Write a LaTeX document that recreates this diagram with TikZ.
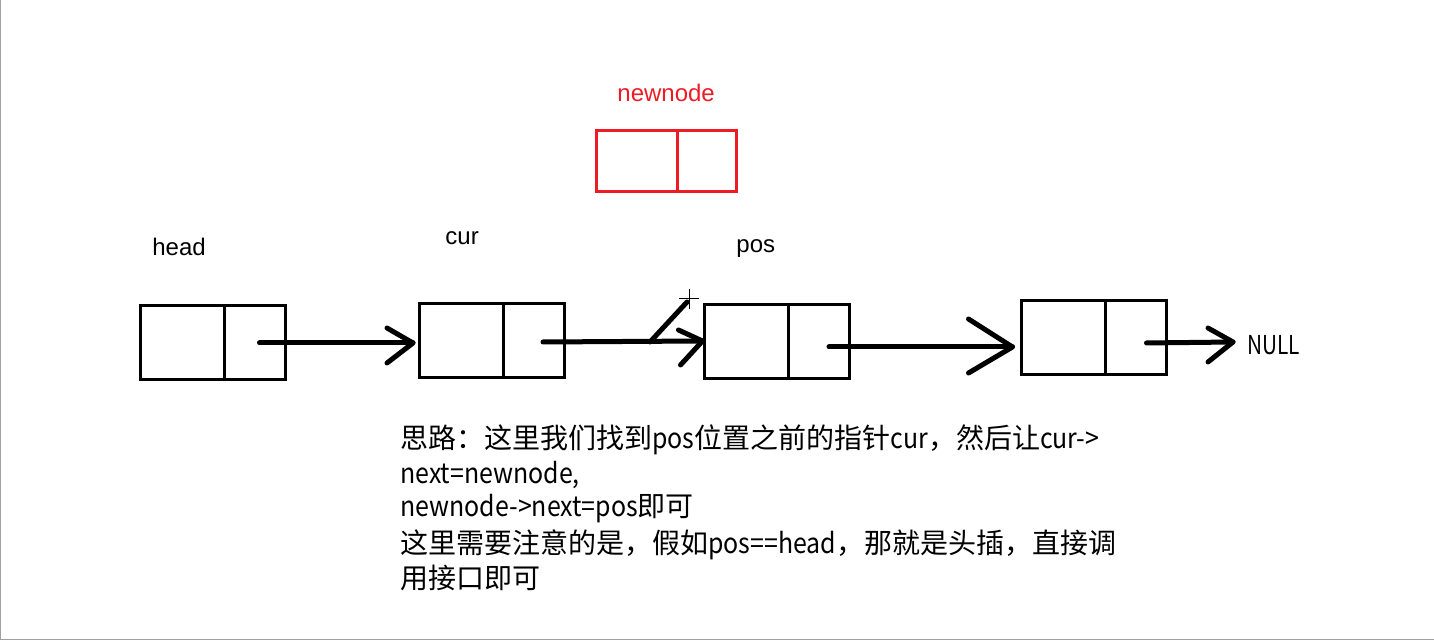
\documentclass[tikz,border=0pt]{standalone}
\usepackage{graphicx}
\usepackage{fontspec}
\setmainfont{Liberation Sans}
\newfontfamily\cjk{Noto Sans CJK SC}
\newfontfamily\cjklat{Noto Sans CJK SC}[FakeStretch=0.89]
\newcommand\lt[1]{{\cjklat #1}}
\usetikzlibrary{calc}
\definecolor{mspred}{HTML}{ED1C24}
\definecolor{edgegray}{HTML}{A0A0A0}
\begin{document}
\begin{tikzpicture}[x=0.5pt,y=-0.5pt,
  cell/.style={draw, line width=1.5pt, inner sep=0pt, outer sep=0pt,
               minimum width=72.5pt, minimum height=37pt},
  conn/.style={line width=2.5pt, line cap=round, line join=round},
  lbl/.style={inner sep=0pt, anchor=base west, font=\fontsize{12pt}{14pt}\selectfont},
  note/.style={inner sep=0pt, anchor=west, font=\cjk\fontsize{14pt}{17pt}\selectfont}]
\useasboundingbox (0,0) rectangle (1434,640);
\fill[white] (0,0) rectangle (1434,640);
% window edges
\draw[edgegray, line width=0.6pt] (0.6,0) -- (0.6,640);
\draw[edgegray, line width=0.5pt] (0,639) -- (1434,639);

% list cells
\node[cell] (b1) at (213,342.5) {};
\node[cell] (b2) at (491.5,340.5) {};
\node[cell] (b3) at (777,341.5) {};
\node[cell] (b4) at (1093.5,338) {};
\node[cell, draw=mspred, minimum width=70pt, minimum height=30.5pt] (nn) at (666.5,161) {};
\foreach \b in {b1,b2,b3,b4}
  \draw[line width=1.5pt] ($(\b.north west)!0.58!(\b.north east)$) -- ($(\b.south west)!0.58!(\b.south east)$);
\draw[line width=1.5pt, mspred] ($(nn.north west)!0.58!(nn.north east)$) -- ($(nn.south west)!0.58!(nn.south east)$);

% labels
\node[lbl, text=mspred] (lnn) at (617,102) {newnode};
\node[lbl] (lhead) at (152,256) {head};
\node[lbl] (lcur) at (445,245) {cur};
\node[lbl] (lpos) at (736,253) {pos};
\node[inner sep=0pt, anchor=west, font=\cjk\fontsize{13pt}{15pt}\selectfont] (null) at (1247,345) {\scalebox{0.8}[1]{NULL}};

% arrows
\coordinate (s1) at ($(b1.east)+(-26,0.5)$);
\coordinate (t1) at ($(b2.west)+(-6,2.5)$);
\draw[conn] (s1) -- (t1);
\draw[conn] ($(t1)+(-26,-15)$) -- (t1) -- ($(t1)+(-26,20)$);

\coordinate (s2) at ($(b2.east)+(-21,1.5)$);
\coordinate (t2) at ($(b3.west)+(-2,-0.5)$);
\draw[conn] (s2) -- (t2);
\draw[conn] ($(t2)+(-24,-11)$) -- (t2) -- ($(t2)+(-22,24)$);

\coordinate (s3) at ($(b3.east)+(-20.5,5.5)$);
\coordinate (t3) at ($(b4.west)+(-8.5,9)$);
\draw[conn] (s3) -- (t3);
\draw[conn] ($(t3)+(-44,-28)$) -- (t3) -- ($(t3)+(-44,26)$);

\coordinate (s4) at ($(b4.east)+(-19.5,5)$);
\coordinate (t4) at ($(null.west)+(-14,-3)$);
\draw[conn] (s4) -- (t4);
\draw[conn] ($(t4)+(-25,-14)$) -- (t4) -- ($(t4)+(-25,20)$);

% hand-drawn diagonal stroke and cursor
\coordinate (d1) at (650,342);
\coordinate (d2) at (687,302);
\draw[conn] (d1) -- (d2);
\coordinate (cx) at (689,299);
\draw[line width=0.5pt] ($(cx)+(-10,0)$) -- ($(cx)+(10,0)$);
\draw[line width=0.5pt] ($(cx)+(0,-10)$) -- ($(cx)+(0,10)$);

% explanation
\node[note] (n1) at (400,440) {思路：这里我们找到\lt{pos}位置之前的指针\lt{cur}，然后让\lt{cur->}};
\node[note] (n2) at (400,475) {\lt{next=newnode,}};
\node[note] (n3) at (400,509) {\lt{newnode->next=pos}即可};
\node[note] (n4) at (400,545) {这里需要注意的是，假如\lt{pos==head}，那就是头插，直接调};
\node[note] (n5) at (400,578) {用接口即可};
\end{tikzpicture}
\end{document}
